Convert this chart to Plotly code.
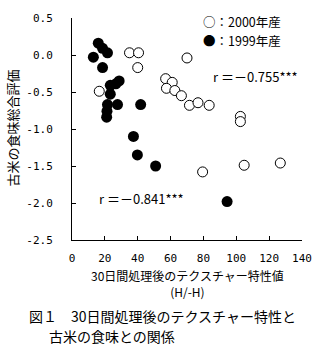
import plotly.graph_objects as go

# 2000年産 (open markers)
x_2000 = [16.6, 35.0, 40.5, 40.0, 70.0, 57.0, 61.0, 57.5, 62.6, 66.6, 71.5, 76.7, 83.5, 102.5, 102.5, 79.5, 104.8, 126.8]
y_2000 = [-0.49, 0.03, 0.03, -0.17, -0.04, -0.32, -0.37, -0.45, -0.48, -0.55, -0.68, -0.645, -0.68, -0.83, -0.90, -1.58, -1.49, -1.46]

# 1999年産 (filled markers)
x_1999 = [16.0, 18.6, 21.6, 13.0, 18.6, 28.7, 26.7, 23.3, 23.3, 27.7, 21.6, 21.3, 21.1, 41.8, 37.4, 39.8, 50.9, 94.4]
y_1999 = [0.16, 0.09, 0.03, -0.03, -0.17, -0.35, -0.39, -0.41, -0.53, -0.67, -0.67, -0.76, -0.84, -0.67, -1.10, -1.35, -1.50, -1.98]

x_ticks = [0, 20, 40, 60, 80, 100, 120, 140]
y_ticks = [0.5, 0.0, -0.5, -1.0, -1.5, -2.0, -2.5]
y_tick_text = ["0.5", "0.0", "-0.5", "-1.0", "-1.5", "-2.0", "-2.5"]

r_2000 = "r ＝－0.755***"
r_1999 = "r ＝－0.841***"

JP = "Noto Sans CJK JP"
MONO = "DejaVu Sans Mono"

fig = go.Figure()
fig.add_trace(go.Scatter(
    x=x_2000, y=y_2000, mode="markers", name="2000年産",
    marker=dict(symbol="circle", size=10, color="white",
                line=dict(color="black", width=1)),
))
fig.add_trace(go.Scatter(
    x=x_1999, y=y_1999, mode="markers", name="1999年産",
    marker=dict(symbol="circle", size=11, color="black",
                line=dict(color="black", width=0)),
))

W, H = 324, 354
L, R, T, B = 72, 20, 12, 114
PH = H - T - B
PW = W - L - R


def py(pix):
    # pixel row -> paper y
    return (H - B - pix) / PH


def px(pix):
    # pixel column -> paper x
    return (pix - L) / PW


annotations = [
    dict(text="○：2000年産", x=px(202), y=py(16), xanchor="left", yanchor="middle",
         font=dict(family=JP, size=12.5, color="black")),
    dict(text="●：1999年産", x=px(202), y=py(35), xanchor="left", yanchor="middle",
         font=dict(family=JP, size=12.5, color="black")),
    dict(text=r_2000, x=px(212), y=py(72), xanchor="left", yanchor="middle",
         font=dict(family=JP, size=13, color="black")),
    dict(text=r_1999, x=px(97), y=py(197), xanchor="left", yanchor="middle",
         font=dict(family=JP, size=13, color="black")),
    dict(text="古米の食味総合評価", x=px(12), y=py(125), textangle=-90,
         xanchor="center", yanchor="middle",
         font=dict(family=JP, size=13, color="black")),
    dict(text="30日間処理後のテクスチャー特性値<br>(H/-H)", x=px(188), y=py(284.5),
         xanchor="center", yanchor="middle", align="center",
         font=dict(family=JP, size=12, color="black")),
    dict(text="図１　30日間処理後のテクスチャー特性と", x=px(27), y=py(318),
         xanchor="left", yanchor="middle",
         font=dict(family=JP, size=14, color="black")),
    dict(text="古米の食味との関係", x=px(47), y=py(339),
         xanchor="left", yanchor="middle",
         font=dict(family=JP, size=14, color="black")),
]
for a in annotations:
    a.update(xref="paper", yref="paper", showarrow=False)

fig.update_layout(
    width=W, height=H,
    margin=dict(l=L, r=R, t=T, b=B),
    paper_bgcolor="white", plot_bgcolor="white",
    showlegend=False,
    annotations=annotations,
    xaxis=dict(range=[0, 140], tickvals=x_ticks, ticks="inside", ticklen=4,
               tickcolor="black", showline=True, linecolor="black", linewidth=1,
               showgrid=False, zeroline=False, ticklabelstandoff=8,
               tickfont=dict(family=MONO, size=11, color="black")),
    yaxis=dict(range=[-2.5, 0.5], tickvals=y_ticks, ticktext=y_tick_text,
               ticks="inside", ticklen=4, tickcolor="black",
               showline=True, linecolor="black", linewidth=1,
               showgrid=False, zeroline=False, ticklabelstandoff=16,
               tickfont=dict(family=MONO, size=11, color="black")),
)

fig.write_html("out.html")
